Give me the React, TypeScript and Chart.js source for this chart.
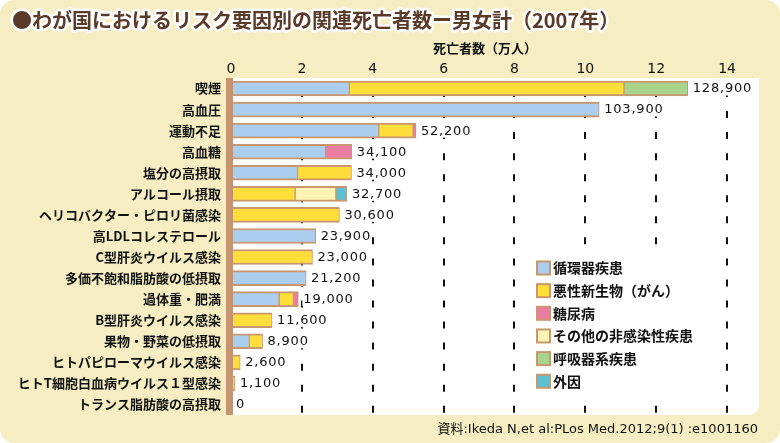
import React, { useEffect, useRef } from "react";
import { Chart, registerables } from "chart.js";

Chart.register(...registerables);

const chartTitle = "●わが国におけるリスク要因別の関連死亡者数ー男女計（2007年）";
const axisTitle = "死亡者数（万人）";
const sourceNote = "資料:Ikeda N,et al:PLos Med.2012;9(1) :e1001160";

const categories = [
  "喫煙",
  "高血圧",
  "運動不足",
  "高血糖",
  "塩分の高摂取",
  "アルコール摂取",
  "ヘリコバクター・ピロリ菌感染",
  "高LDLコレステロール",
  "C型肝炎ウイルス感染",
  "多価不飽和脂肪酸の低摂取",
  "過体重・肥満",
  "B型肝炎ウイルス感染",
  "果物・野菜の低摂取",
  "ヒトパピローマウイルス感染",
  "ヒトT細胞白血病ウイルス１型感染",
  "トランス脂肪酸の高摂取",
];

// values in 万人 (10,000 persons)
const circulatory = [3.34, 10.39, 4.17, 2.67, 1.88, null, null, 2.39, null, 2.12, 1.36, null, 0.52, null, null, null];
const cancer = [7.75, null, 0.97, null, 1.52, 1.81, 3.06, null, 2.3, null, 0.4, 1.16, 0.37, 0.26, 0.11, null];
const diabetes = [null, null, 0.08, 0.74, null, null, null, null, null, null, 0.14, null, null, null, null, null];
const otherNcd = [null, null, null, null, null, 1.15, null, null, null, null, null, null, null, null, null, null];
const respiratory = [1.8, null, null, null, null, null, null, null, null, null, null, null, null, null, null, null];
const external = [null, null, null, null, null, 0.31, null, null, null, null, null, null, null, null, null, null];

const totals = [128900, 103900, 52200, 34100, 34000, 32700, 30600, 23900, 23000, 21200, 19000, 11600, 8900, 2600, 1100, 0];

const seriesLabels = ["循環器疾患", "悪性新生物（がん）", "糖尿病", "その他の非感染性疾患", "呼吸器系疾患", "外因"];
const seriesValues = [circulatory, cancer, diabetes, otherNcd, respiratory, external];
const seriesColors = ["#abcdee", "#ffde3c", "#ea7ca2", "#fff4b4", "#a9d38a", "#5cc0d2"];

const xMin = 0;
const xMax = 14.9;
const xStep = 2;

const BORDER = "#c9976f";
const CREAM = "#f6edc3";

const decorPlugin = {
  id: "decor",
  beforeDraw(chart: any) {
    const ctx = chart.ctx;
    const { left, top, right, bottom } = chart.chartArea;
    ctx.save();
    ctx.fillStyle = "#ffffff";
    ctx.fillRect(0, 0, chart.width, chart.height);
    ctx.fillStyle = CREAM;
    ctx.beginPath();
    ctx.roundRect(0, 0, chart.width, chart.height, 14);
    ctx.fill();
    ctx.fillStyle = "#ffffff";
    ctx.beginPath();
    ctx.roundRect(left - 5, top, right - left + 5, bottom - top, [0, 0, 10, 0]);
    ctx.fill();
    // title
    ctx.font = 'bold 20px "Noto Sans CJK JP"';
    ctx.textBaseline = "middle";
    ctx.textAlign = "left";
    ctx.lineJoin = "round";
    ctx.strokeStyle = "#ffffff";
    ctx.lineWidth = 5;
    ctx.strokeText(chartTitle, 12, 20);
    ctx.fillStyle = "#5a3a28";
    ctx.fillText(chartTitle, 12, 20);
    // axis title
    ctx.font = 'bold 13px "Noto Sans CJK JP"';
    ctx.textAlign = "center";
    ctx.fillStyle = "#111";
    ctx.fillText(axisTitle, 485, 48);
    // source
    ctx.font = '13px "DejaVu Sans", "Noto Sans CJK JP"';
    ctx.textAlign = "right";
    ctx.fillText(sourceNote, 758, 430);
    ctx.restore();
  },
  afterDatasetsDraw(chart: any) {
    const ctx = chart.ctx;
    const { left, top, bottom } = chart.chartArea;
    const xs = chart.scales.x;
    const ys = chart.scales.y;
    ctx.save();
    // value labels
    ctx.font = '13px "DejaVu Sans"';
    (ctx as any).letterSpacing = "0.8px";
    ctx.textBaseline = "middle";
    ctx.textAlign = "left";
    totals.forEach((t, i) => {
      const x = xs.getPixelForValue(t / 10000) + 5;
      const y = ys.getPixelForValue(i);
      const txt = t.toLocaleString("en-US");
      const w = ctx.measureText(txt).width;
      ctx.fillStyle = "#ffffff";
      ctx.fillRect(x - 1, y - 7, w + 2, 14);
      ctx.fillStyle = "#111";
      ctx.fillText(txt, x, y + 0.5);
    });
    (ctx as any).letterSpacing = "0px";
    // brown axis bar
    ctx.fillStyle = "#c49470";
    ctx.fillRect(left - 5, top, 7, bottom - top);
    ctx.restore();
  },
  afterDraw(chart: any) {
    const ctx = chart.ctx;
    ctx.save();
    ctx.fillStyle = "#ffffff";
    ctx.fillRect(528, 254, 186, 140);
    ctx.font = 'bold 14px "Noto Sans CJK JP"';
    ctx.textBaseline = "middle";
    ctx.textAlign = "left";
    seriesLabels.forEach((lab, i) => {
      const y = 268 + i * 22.65;
      ctx.fillStyle = seriesColors[i];
      ctx.fillRect(537, y - 6.5, 13, 13);
      ctx.strokeStyle = BORDER;
      ctx.lineWidth = 2;
      ctx.strokeRect(537, y - 6.5, 13, 13);
      ctx.fillStyle = "#111";
      ctx.fillText(lab, 553, y);
    });
    ctx.restore();
  },
};

export default function App() {
  const ref = useRef<HTMLCanvasElement | null>(null);
  useEffect(() => {
    document.body.style.margin = "0";
    if (!ref.current) return;
    const chart = new Chart(ref.current, {
      type: "bar",
      data: {
        labels: categories,
        datasets: seriesLabels.map((lab, i) => ({
          label: lab,
          data: seriesValues[i] as any,
          backgroundColor: seriesColors[i],
          borderColor: BORDER,
          borderWidth: { top: 2, bottom: 2, left: 1, right: 1 },
          borderSkipped: false,
          barThickness: 15,
        })),
      },
      options: {
        indexAxis: "y",
        responsive: false,
        animation: false,
        layout: { padding: { left: 0, right: 21, top: 0, bottom: 28 } },
        plugins: {
          legend: { display: false },
          tooltip: { enabled: false },
          title: { display: false },
        },
        scales: {
          x: {
            type: "linear",
            position: "top",
            stacked: true,
            min: xMin,
            max: xMax,
            ticks: {
              stepSize: xStep,
              includeBounds: false,
              padding: 0,
              color: "#111",
              font: { family: "DejaVu Sans", size: 14 },
            },
            grid: { color: "#111", lineWidth: 2, drawTicks: false },
            border: { display: false, dash: [7, 14.05], dashOffset: 9.05 },
            afterFit: (s: any) => {
              s.height = 78;
            },
          },
          y: {
            type: "category",
            stacked: true,
            grid: { display: false, drawTicks: false },
            border: { display: false },
            ticks: {
              padding: 10,
              color: "#111",
              font: { family: "Noto Sans CJK JP", size: 13, weight: "bold" },
            },
            afterFit: (s: any) => {
              s.width = 231;
            },
          },
        },
      } as any,
      plugins: [decorPlugin],
    });
    return () => chart.destroy();
  }, []);
  return (
    <div style={{ width: 780, height: 443 }}>
      <canvas ref={ref} width={780} height={443} style={{ display: "block" }} />
    </div>
  );
}
